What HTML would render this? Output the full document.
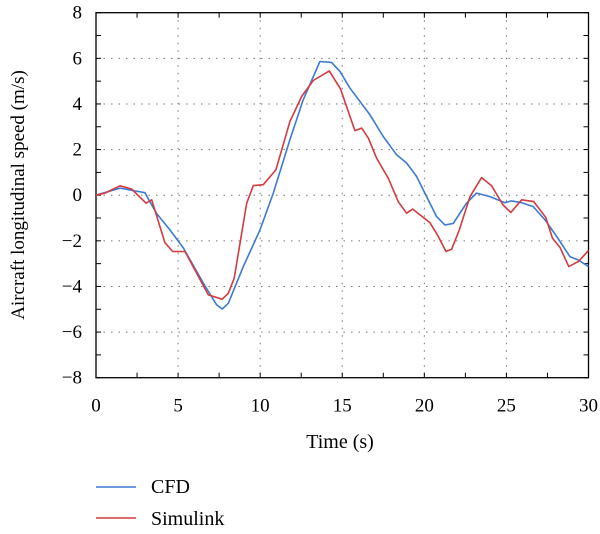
<!DOCTYPE html>
<html><head><meta charset="utf-8"><style>
body{margin:0;background:#fff}
svg{display:block;font-family:"Liberation Serif",serif}
</style></head><body>
<svg id="c" width="600" height="534" viewBox="0 0 600 534"></svg>
<script>
const xTicks=[0,5,10,15,20,25,30];
const yTicks=[-8,-6,-4,-2,0,2,4,6,8];
const cfdT=[0,1.46,2.27,2.98,3.68,4.5,5.32,6.54,7.35,7.69,8.06,8.97,9.99,10.8,11.81,12.62,13.64,14.35,14.86,15.47,16.69,17.5,18.31,18.92,19.53,20.14,20.75,21.25,21.76,22.57,23.18,24.0,24.91,25.31,25.93,26.63,27.35,28.06,28.87,29.38,30];
const cfdV=[0,0.31,0.2,0.11,-0.79,-1.52,-2.31,-3.86,-4.81,-4.99,-4.74,-3.13,-1.52,0.09,2.43,4.18,5.86,5.82,5.42,4.69,3.52,2.57,1.77,1.41,0.82,-0.06,-0.94,-1.3,-1.24,-0.35,0.09,-0.06,-0.33,-0.25,-0.33,-0.5,-1.08,-1.81,-2.69,-2.84,-3.13];
const simT=[0,0.55,1.46,2.17,3.05,3.39,4.2,4.67,5.42,6.84,7.69,8.06,8.42,9.18,9.58,10.19,10.96,11.81,12.53,13.23,14.21,14.9,15.47,15.77,16.18,16.59,17.09,17.8,18.41,18.92,19.29,20.34,20.85,21.32,21.66,22.13,22.78,23.49,24.1,24.8,25.27,25.93,26.67,27.39,27.81,28.26,28.8,29.38,30];
const simV=[0,0.09,0.41,0.27,-0.35,-0.2,-2.08,-2.47,-2.47,-4.37,-4.56,-4.3,-3.64,-0.35,0.42,0.46,1.11,3.23,4.33,5.03,5.45,4.65,3.45,2.83,2.94,2.5,1.62,0.75,-0.28,-0.79,-0.61,-1.2,-1.81,-2.47,-2.37,-1.52,-0.06,0.77,0.41,-0.43,-0.76,-0.2,-0.28,-0.97,-1.89,-2.28,-3.13,-2.91,-2.43];
const L=96,R=588.5,T=12.7,B=377.7;
const xs=t=>L+(t-0)/30*(R-L);
const ys=v=>B-(v+8)/16*(B-T);
const svg=document.getElementById('c');
const NS='http://www.w3.org/2000/svg';
function mk(tag,attrs,parent){const e=document.createElementNS(NS,tag);for(const k in attrs)e.setAttribute(k,attrs[k]);(parent||svg).appendChild(e);return e;}
xTicks.forEach(t=>{if(t>0&&t<30){const g=mk('line',{x1:xs(t),x2:xs(t),y1:T,y2:B,stroke:'#777','stroke-width':1,'stroke-dasharray':'1.5 6'});

}});
yTicks.forEach(v=>{if(v>-8&&v<8){const g=mk('line',{x1:L,x2:R,y1:ys(v),y2:ys(v),stroke:'#777','stroke-width':1,'stroke-dasharray':'1.5 6'});

}});
const fr=mk('rect',{x:L,y:T,width:R-L,height:B-T,fill:'none',stroke:'#000','stroke-width':1.3});


for(let t=0;t<=30;t+=2.5){mk('line',{x1:xs(t),x2:xs(t),y1:B,y2:B-5,stroke:'#000'});mk('line',{x1:xs(t),x2:xs(t),y1:T,y2:T+5,stroke:'#000'});}
for(let v=-8;v<=8;v+=1){mk('line',{x1:L,x2:L+5,y1:ys(v),y2:ys(v),stroke:'#000'});mk('line',{x1:R,x2:R-5,y1:ys(v),y2:ys(v),stroke:'#000'});}
xTicks.forEach(t=>{const e=mk('text',{x:xs(t),y:B+34,'text-anchor':'middle','font-size':19});e.textContent=t;

});
yTicks.forEach(v=>{const e=mk('text',{x:L-14,y:ys(v)+6,'text-anchor':'end','font-size':19});e.textContent=v<0?'\u2212'+(-v):v;

});
function series(T_,V_,col,name){const d=T_.map((t,i)=>(i?'L':'M')+xs(t).toFixed(1)+' '+ys(V_[i]).toFixed(1)).join(' ');
const p=mk('path',{d:d,fill:'none',stroke:col,'stroke-width':1.6,'stroke-linejoin':'round'});

}
series(cfdT,cfdV,'#3b7bd4','cfd-line');
series(simT,simV,'#d23b3f','simulink-line');
</script>
<svg style="position:absolute;left:0;top:0" width="600" height="534">
<text x="340" y="448" text-anchor="middle" font-size="20" font-family="Liberation Serif,serif">Time (s)</text>
<text transform="translate(24,195) rotate(-90)" text-anchor="middle" font-size="19" font-family="Liberation Serif,serif">Aircraft longitudinal speed (m/s)</text>
<g><line x1="96" y1="487" x2="136" y2="487" stroke="#3b7bd4" stroke-width="1.6"/><text x="151" y="493" font-size="20" font-family="Liberation Serif,serif">CFD</text></g>
<g><line x1="96" y1="518" x2="136" y2="518" stroke="#d23b3f" stroke-width="1.6"/><text x="151" y="525" font-size="20" font-family="Liberation Serif,serif">Simulink</text></g>
</svg>
</body></html>
